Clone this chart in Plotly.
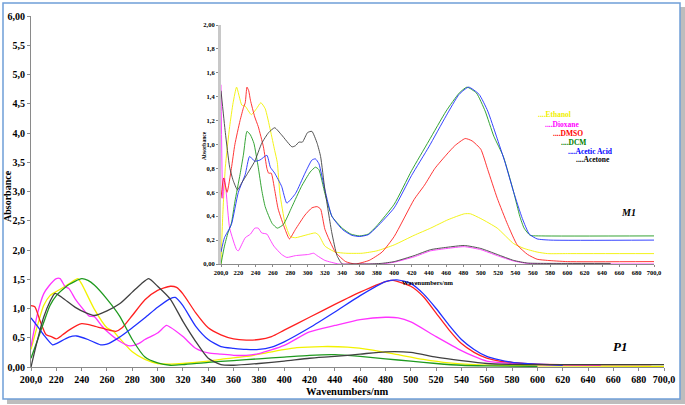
import plotly.graph_objects as go

# ---- P1 (main plot) ----
p1_ethanol_x = [200, 205, 210, 215, 220, 230, 237, 240, 250, 260, 265, 270, 280, 290, 300, 310, 320, 340, 350, 370, 390, 410, 430, 450, 470, 490, 510, 530, 550, 600, 700]
p1_ethanol_y = [0.3, 0.7, 1.05, 1.22, 1.29, 1.42, 1.51, 1.42, 0.99, 0.67, 0.61, 0.49, 0.26, 0.13, 0.06, 0.05, 0.06, 0.1, 0.13, 0.18, 0.26, 0.33, 0.35, 0.34, 0.29, 0.21, 0.13, 0.07, 0.04, 0.02, 0.01]

p1_dioxane_x = [200, 205, 210, 214, 220, 223, 227, 230, 235, 240, 246, 250, 256, 260, 270, 278, 285, 290, 300, 307, 310, 320, 330, 340, 350, 360, 370, 380, 400, 420, 440, 460, 480, 490, 500, 520, 540, 550, 560, 580, 600, 650]
p1_dioxane_y = [0.35, 0.9, 1.25, 1.38, 1.51, 1.51, 1.37, 1.34, 1.16, 1.02, 0.87, 0.86, 0.7, 0.61, 0.44, 0.36, 0.4, 0.47, 0.58, 0.71, 0.68, 0.52, 0.32, 0.24, 0.22, 0.2, 0.2, 0.23, 0.37, 0.6, 0.71, 0.81, 0.85, 0.84, 0.77, 0.52, 0.28, 0.18, 0.1, 0.06, 0.04, 0.03]

p1_dmso_x = [200, 203, 207, 212, 216, 220, 225, 230, 240, 250, 260, 267, 272, 280, 290, 300, 310, 315, 320, 330, 340, 350, 360, 370, 380, 390, 400, 420, 440, 460, 480, 486, 500, 510, 520, 530, 540, 550, 560, 570, 580, 600, 640, 690]
p1_dmso_y = [1.05, 1.03, 0.8, 0.55, 0.52, 0.48, 0.55, 0.63, 0.74, 0.7, 0.64, 0.61, 0.67, 0.88, 1.15, 1.31, 1.38, 1.36, 1.25, 0.93, 0.67, 0.55, 0.48, 0.46, 0.47, 0.52, 0.63, 0.85, 1.07, 1.28, 1.46, 1.48, 1.38, 1.2, 0.92, 0.64, 0.4, 0.25, 0.15, 0.1, 0.08, 0.05, 0.04, 0.04]

p1_dcm_x = [200, 205, 210, 215, 220, 230, 240, 245, 250, 260, 270, 280, 290, 300, 310, 320, 340, 360, 380, 400, 420, 440, 460, 480, 500, 520, 540, 560, 600]
p1_dcm_y = [0.15, 0.45, 0.76, 1.05, 1.22, 1.41, 1.51, 1.48, 1.4, 1.16, 0.87, 0.47, 0.17, 0.07, 0.03, 0.04, 0.08, 0.11, 0.14, 0.17, 0.2, 0.21, 0.18, 0.14, 0.1, 0.06, 0.03, 0.02, 0.01]

p1_acetic_x = [200, 205, 210, 217, 220, 230, 236, 245, 255, 260, 270, 280, 290, 300, 310, 314, 320, 330, 340, 350, 360, 370, 380, 390, 400, 420, 440, 460, 480, 489, 500, 510, 520, 530, 540, 550, 560, 570, 580, 600, 620]
p1_acetic_y = [0.84, 0.7, 0.55, 0.38, 0.4, 0.51, 0.53, 0.47, 0.38, 0.39, 0.51, 0.67, 0.84, 1.02, 1.17, 1.19, 1.05, 0.7, 0.47, 0.35, 0.32, 0.3, 0.3, 0.34, 0.43, 0.67, 0.94, 1.22, 1.46, 1.49, 1.43, 1.25, 1.0, 0.72, 0.47, 0.3, 0.18, 0.12, 0.08, 0.05, 0.03]

p1_acetone_x = [200, 205, 210, 215, 219, 225, 235, 244, 250, 260, 270, 280, 287, 293, 300, 310, 320, 330, 340, 350, 360, 380, 400, 420, 440, 460, 480, 500, 520, 540, 560, 580, 600, 700]
p1_acetone_y = [0.0, 0.45, 0.85, 1.12, 1.26, 1.18, 1.02, 0.92, 0.88, 0.96, 1.08, 1.28, 1.42, 1.51, 1.38, 1.16, 0.78, 0.44, 0.15, 0.04, 0.03, 0.06, 0.1, 0.15, 0.18, 0.22, 0.26, 0.25, 0.17, 0.11, 0.06, 0.045, 0.04, 0.04]

# ---- M1 (inset) ----
m1_ethanol_x = [200, 202, 205, 210, 214, 218, 224, 228, 235, 241, 246, 251, 257, 262, 265, 268, 274, 280, 286, 297, 309, 313, 320, 332, 344, 363, 380, 400, 423, 442, 462, 481, 488, 500, 519, 538, 550, 565, 577, 600, 700]
m1_ethanol_y = [0.0, 0.4, 0.81, 1.15, 1.35, 1.48, 1.33, 1.32, 1.25, 1.3, 1.35, 1.3, 1.12, 0.95, 0.85, 0.59, 0.34, 0.23, 0.22, 0.24, 0.26, 0.24, 0.15, 0.1, 0.09, 0.09, 0.11, 0.16, 0.24, 0.3, 0.37, 0.42, 0.42, 0.38, 0.3, 0.17, 0.13, 0.1, 0.087, 0.087, 0.087]

m1_dioxane_x = [200, 202, 204, 206, 210, 218, 220, 228, 234, 239, 243, 247, 253, 257, 261, 270, 276, 286, 301, 307, 311, 320, 336, 350, 370, 385, 400, 423, 442, 461, 481, 500, 519, 538, 554, 600, 700]
m1_dioxane_y = [1.5, 0.55, 0.72, 0.6, 0.3, 0.12, 0.11, 0.22, 0.25, 0.3, 0.3, 0.26, 0.25, 0.2, 0.15, 0.08, 0.055, 0.07, 0.08, 0.09, 0.07, 0.03, 0.0, 0.0, 0.0, 0.0, 0.015, 0.06, 0.11, 0.13, 0.145, 0.12, 0.07, 0.025, 0.005, 0.0, 0.0]

m1_dmso_x = [200, 203, 207, 212, 216, 222, 226, 228, 230, 232, 234, 239, 243, 249, 253, 255, 258, 262, 266, 274, 279, 286, 297, 305, 311, 315, 320, 332, 344, 355, 371, 386, 400, 423, 435, 447, 461, 470, 482, 490, 500, 508, 519, 531, 542, 554, 565, 577, 600, 700]
m1_dmso_y = [0.55, 0.72, 0.6, 0.8, 1.0, 1.2, 1.31, 1.35, 1.48, 1.45, 1.37, 1.23, 1.15, 0.98, 0.8, 0.76, 0.76, 0.62, 0.46, 0.29, 0.21, 0.29, 0.41, 0.47, 0.48, 0.46, 0.29, 0.1, 0.02, 0.0, 0.03, 0.1, 0.23, 0.54, 0.66, 0.8, 0.92, 0.99, 1.05, 1.03, 0.96, 0.79, 0.55, 0.33, 0.16, 0.08, 0.04, 0.03, 0.02, 0.02]

m1_dcm_x = [200, 204, 208, 212, 216, 222, 226, 230, 234, 238, 243, 247, 251, 259, 265, 272, 282, 293, 303, 309, 313, 320, 328, 340, 350, 360, 370, 380, 400, 420, 440, 460, 475, 484, 495, 505, 515, 526, 538, 545, 550, 557, 570, 700]
m1_dcm_y = [0.0, 0.15, 0.26, 0.34, 0.52, 0.75, 0.92, 1.11, 1.08, 1.01, 0.81, 0.62, 0.48, 0.34, 0.3, 0.33, 0.48, 0.65, 0.77, 0.81, 0.79, 0.59, 0.4, 0.3, 0.25, 0.235, 0.25, 0.32, 0.5, 0.78, 1.03, 1.28, 1.43, 1.48, 1.43, 1.28, 1.07, 0.9, 0.6, 0.4, 0.3, 0.24, 0.235, 0.235]

m1_acetic_x = [200, 204, 212, 220, 228, 233, 239, 245, 253, 257, 262, 270, 276, 286, 297, 305, 309, 313, 320, 328, 340, 351, 360, 370, 380, 400, 420, 440, 460, 475, 486, 498, 508, 518, 528, 538, 548, 556, 565, 580, 700]
m1_acetic_y = [0.1, 0.22, 0.33, 0.6, 0.75, 0.9, 0.86, 0.87, 0.91, 0.81, 0.76, 0.65, 0.51, 0.59, 0.76, 0.87, 0.88, 0.84, 0.62, 0.4, 0.29, 0.24, 0.23, 0.245, 0.31, 0.47, 0.74, 0.98, 1.24, 1.42, 1.48, 1.42, 1.28, 1.07, 0.85, 0.6, 0.38, 0.25, 0.21, 0.2, 0.2]

m1_acetone_x = [200, 205, 210, 214, 219, 224, 230, 239, 247, 255, 262, 270, 282, 286, 290, 294, 300, 305, 311, 315, 320, 328, 334, 340, 350, 370, 385, 400, 423, 442, 461, 481, 500, 519, 538, 554, 600, 650]
m1_acetone_y = [1.45, 1.1, 0.81, 0.7, 0.62, 0.68, 0.75, 0.86, 1.01, 1.1, 1.14, 1.08, 0.98, 0.99, 1.02, 1.02, 1.1, 1.11, 1.01, 0.9, 0.62, 0.26, 0.07, 0.0, 0.0, 0.0, 0.005, 0.02, 0.07, 0.12, 0.14, 0.155, 0.13, 0.08, 0.03, 0.008, 0.005, 0.005]

solvents = ["Ethanol", "Dioxane", "DMSO", "DCM", "Acetic Acid", "Acetone"]
line_colors = ["#f2f200", "#ff33ff", "#ff2020", "#1f9a1f", "#2030ff", "#404040"]
text_colors = ["#f0f000", "#ff00ff", "#ff0000", "#008000", "#0000ff", "#000000"]

main_xticks = list(range(200, 701, 20))
main_xtext = ["200,0"] + [str(v) for v in main_xticks[1:-1]] + ["700,0"]
main_yticks = [0, 0.5, 1, 1.5, 2, 2.5, 3, 3.5, 4, 4.5, 5, 5.5, 6]
main_ytext = ["0,00", "0,5", "1,0", "1,5", "2,0", "2,5", "3,0", "3,5", "4,0", "4,5", "5,0", "5,5", "6,00"]
inset_yticks = [0, 0.2, 0.4, 0.6, 0.8, 1.0, 1.2, 1.4, 1.6, 1.8, 2.0]
inset_ytext = ["0,00", "0,2", "0,4", "0,6", "0,8", "1,0", "1,2", "1,4", "1,6", "1,8", "2,00"]

SERIF = "Liberation Serif, Times New Roman, serif"

# pixel helpers (plot area: x 31..664, y 16..367 in a 685x405 page)
def px(x):
    return (x - 31) / 633

def py(y):
    return (367 - y) / 351

p1 = [(p1_ethanol_x, p1_ethanol_y), (p1_dioxane_x, p1_dioxane_y), (p1_dmso_x, p1_dmso_y),
      (p1_dcm_x, p1_dcm_y), (p1_acetic_x, p1_acetic_y), (p1_acetone_x, p1_acetone_y)]
m1 = [(m1_ethanol_x, m1_ethanol_y), (m1_dioxane_x, m1_dioxane_y), (m1_dmso_x, m1_dmso_y),
      (m1_dcm_x, m1_dcm_y), (m1_acetic_x, m1_acetic_y), (m1_acetone_x, m1_acetone_y)]

fig = go.Figure()
for (x, y), name, c in zip(p1, solvents, line_colors):
    fig.add_trace(go.Scatter(x=x, y=y, mode="lines", name=name, showlegend=False,
                             line=dict(color=c, width=1.3, shape="spline", smoothing=0.6)))
for (x, y), name, c in zip(m1, solvents, line_colors):
    fig.add_trace(go.Scatter(x=x, y=y, mode="lines", name=name, showlegend=False,
                             xaxis="x2", yaxis="y2", cliponaxis=True,
                             line=dict(color=c, width=0.9, shape="spline", smoothing=0.5)))

axis_common = dict(showline=True, linecolor="#8a8a8a", linewidth=1, ticks="outside",
                   tickcolor="#8a8a8a", showgrid=False, zeroline=False, tickmode="array")

fig.update_layout(
    width=685, height=405, template="none",
    margin=dict(l=31, r=21, t=16, b=38),
    paper_bgcolor="white", plot_bgcolor="rgba(0,0,0,0)",
    xaxis=dict(range=[200, 700], tickvals=main_xticks, ticktext=main_xtext, ticklen=3,
               tickfont=dict(family=SERIF, size=10, color="black", weight="bold"), **axis_common),
    yaxis=dict(range=[0, 6], tickvals=main_yticks, ticktext=main_ytext, ticklen=3,
               tickfont=dict(family=SERIF, size=10, color="black", weight="bold"), **axis_common),
    xaxis2=dict(domain=[px(221), px(654)], anchor="y2", range=[200, 700], tickvals=main_xticks,
                ticktext=main_xtext, ticklen=2,
                tickfont=dict(family=SERIF, size=6.5, color="black", weight="bold"), **axis_common),
    yaxis2=dict(domain=[py(264), py(25)], anchor="x2", range=[0, 2], tickvals=inset_yticks,
                ticktext=inset_ytext, ticklen=2,
                tickfont=dict(family=SERIF, size=6.5, color="black", weight="bold"),
                **{**axis_common, "linecolor": "#c8c8c8", "linewidth": 3}),
)

# frame with shadow
fig.add_shape(type="rect", xref="paper", yref="paper", layer="below",
              x0=px(7), x1=px(685), y0=py(404), y1=py(7),
              fillcolor="#bdbdbd", line=dict(width=0))
fig.add_shape(type="rect", xref="paper", yref="paper", layer="below",
              x0=px(3), x1=px(680), y0=py(399), y1=py(3),
              fillcolor="white", line=dict(color="#6f9fd8", width=1.5))

ann = [
    dict(x=px(8), y=py(196), text="<b>Absorbance</b>", textangle=-90, size=10),
    dict(x=px(347), y=py(391), text="<b>Wavenumbers/nm</b>", size=10.5),
    dict(x=px(204), y=py(146), text="<b>Absorbance</b>", textangle=-90, size=5.5),
    dict(x=px(428), y=py(282), text="<b>Wavenumbers/nm</b>", size=6.5),
    dict(x=px(628), y=py(212), text="<b><i>M1</i></b>", size=10),
    dict(x=px(620), y=py(346), text="<b><i>P1</i></b>", size=13),
]
for a in ann:
    fig.add_annotation(x=a["x"], y=a["y"], xref="paper", yref="paper", text=a["text"],
                       textangle=a.get("textangle", 0), showarrow=False,
                       xanchor="center", yanchor="middle",
                       font=dict(family=SERIF, size=a["size"], color="black"))

legend_pos = [(536, 114), (543, 124), (551, 133), (559, 142), (566, 151), (574, 159)]
for name, c, (lx, ly) in zip(solvents, text_colors, legend_pos):
    fig.add_annotation(x=px(lx), y=py(ly), xref="paper", yref="paper",
                       text="<b>...." + name + "</b>", showarrow=False,
                       xanchor="left", yanchor="middle",
                       font=dict(family=SERIF, size=7.5, color=c))

# drop the default body margin so the figure sits at the page origin
fig.write_html("out.html", config={"displayModeBar": False},
               post_script="document.body.style.margin='0';")
